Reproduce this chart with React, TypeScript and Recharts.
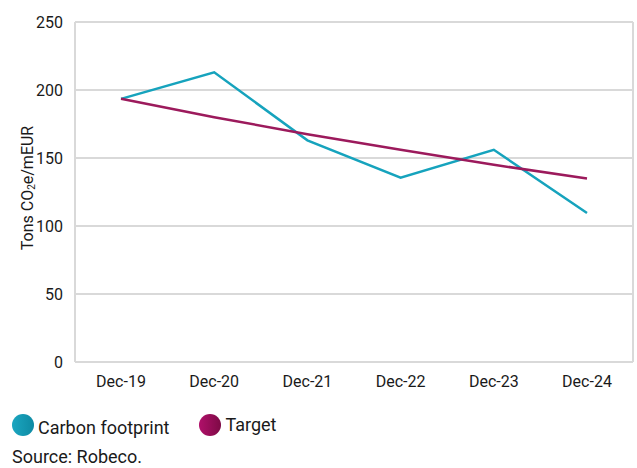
import { LineChart, Line, XAxis, YAxis, CartesianGrid } from "recharts";

const years = ["Dec-19", "Dec-20", "Dec-21", "Dec-22", "Dec-23", "Dec-24"];
const footprint = [193.5, 213, 163, 135.5, 156, 109.5];
const target = [193.5, 180, 167.5, 156, 145, 135];
const yTicks = [0, 50, 100, 150, 200, 250];

const data = years.map((year, i) => ({ year, footprint: footprint[i], target: target[i] }));

const FONT = "Roboto, 'Noto Sans', sans-serif";
const TEAL = "#16a3bd";
const PLUM = "#9c1a5c";
const GRID = "#d9d9d9";
const TEXT = "#1a1a1a";

const YLabel = ({ viewBox }: any) => {
  const cx = 27;
  const cy = viewBox.y + viewBox.height / 2 - 4;
  return (
    <text
      x={cx}
      y={cy}
      transform={`rotate(-90 ${cx} ${cy})`}
      textAnchor="middle"
      dominantBaseline="central"
      fill={TEXT}
      fontSize={16}
      fontFamily={FONT}
    >
      Tons CO<tspan fontSize={10} dy={4}>2</tspan>
      <tspan dy={-4}>e/mEUR</tspan>
    </text>
  );
};

function Dot({ from, to }: { from: string; to: string }) {
  return (
    <span
      style={{
        display: "inline-block",
        width: 22,
        height: 22,
        borderRadius: "50%",
        background: `linear-gradient(90deg, ${from}, ${to})`,
        marginRight: 4,
      }}
    />
  );
}

export default function App() {
  return (
    <div style={{ position: "absolute", left: 0, top: 0, width: 637, height: 468, background: "#fff", fontFamily: FONT, color: TEXT }}>
      <LineChart width={637} height={400} data={data} margin={{ top: 22, right: 4, left: 0, bottom: 0 }}>
        <CartesianGrid
          stroke={GRID}
          strokeWidth={2}
          verticalCoordinatesGenerator={({ offset }: any) => [offset.left, offset.left + offset.width]}
        />
        <XAxis
          dataKey="year"
          height={38}
          padding={{ left: 46, right: 46 }}
          axisLine={false}
          tickLine={false}
          tick={{ fill: TEXT, fontSize: 16, fontFamily: FONT }}
          tickMargin={8}
        />
        <YAxis
          domain={[0, 250]}
          ticks={yTicks}
          width={75}
          axisLine={false}
          tickLine={false}
          tick={{ fill: TEXT, fontSize: 16, fontFamily: FONT }}
          tickMargin={6}
          label={<YLabel />}
        />
        <Line dataKey="footprint" stroke={TEAL} strokeWidth={2.5} dot={false} isAnimationActive={false} />
        <Line dataKey="target" stroke={PLUM} strokeWidth={2.5} dot={false} isAnimationActive={false} />
      </LineChart>
      <div style={{ position: "absolute", left: 12, top: 411, display: "flex", alignItems: "center", fontSize: 18 }}>
        <Dot from="#1ba6c0" to="#0e8aa3" />
        <span style={{ marginTop: 6 }}>Carbon footprint</span>
        <span style={{ width: 30 }} />
        <Dot from="#b0106a" to="#7d0a45" />
        <span>Target</span>
      </div>
      <div style={{ position: "absolute", left: 12, top: 446, fontSize: 18 }}>Source: Robeco.</div>
    </div>
  );
}
